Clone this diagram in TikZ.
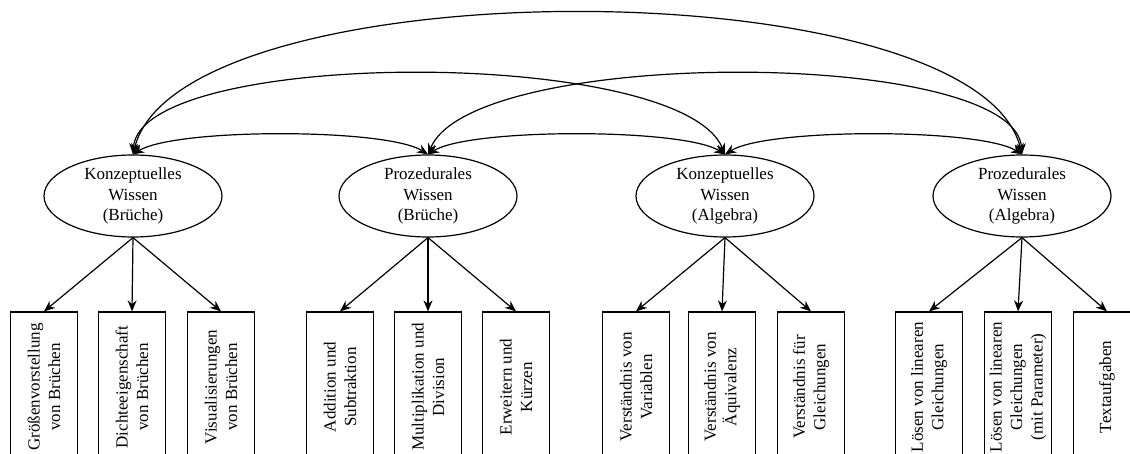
\documentclass[tikz,border=0pt]{standalone}
\usepackage{fontspec}
\setmainfont{Liberation Serif}
\usetikzlibrary{shapes.geometric,arrows.meta}
\begin{document}
\begin{tikzpicture}[x=1pt,y=-1pt,
  latent/.style={draw, ellipse, line width=1.2pt, minimum width=178pt, minimum height=82pt, inner sep=0pt, align=center, font=\fontsize{17}{20.5}\selectfont},
  indic/.style={draw, rectangle, line width=1.2pt, rotate=90, minimum width=150pt, minimum height=67pt, inner sep=2pt, align=center, font=\fontsize{17}{20.5}\selectfont},
  conn/.style={line width=1.2pt, -{Stealth[length=11pt,width=9pt]}},
  cov/.style={line width=1.2pt, {Stealth[length=11pt,width=9pt]}-{Stealth[length=11pt,width=9pt]}}
]
\useasboundingbox (0,0) rectangle (1130,454);
\clip (0,0) rectangle (1130,454);

\node[latent] (e1) at (133,196) {Konzeptuelles\\Wissen\\(Brüche)};
\node[latent] (e2) at (428,196) {Prozedurales\\Wissen\\(Brüche)};
\node[latent] (e3) at (725,196) {Konzeptuelles\\Wissen\\(Algebra)};
\node[latent] (e4) at (1022,196) {Prozedurales\\Wissen\\(Algebra)};

\node[indic] (b1) at (44,387) {Größenvorstellung\\von Brüchen};
\node[indic] (b2) at (132,387) {Dichteeigenschaft\\von Brüchen};
\node[indic] (b3) at (221,387) {Visualisierungen\\von Brüchen};
\node[indic] (b4) at (340,387) {Addition und\\Subtraktion};
\node[indic] (b5) at (428,387) {Multiplikation und\\Division};
\node[indic] (b6) at (516,387) {Erweitern und\\Kürzen};
\node[indic] (b7) at (636,387) {Verständnis von\\Variablen};
\node[indic] (b8) at (722,387) {Verständnis von\\Äquivalenz};
\node[indic] (b9) at (811,387) {Verständnis für\\Gleichungen};
\node[indic] (b10) at (929,387) {Lösen von linearen\\Gleichungen};
\node[indic] (b11) at (1018,387) {Lösen von linearen\\Gleichungen\\(mit Parameter)};
\node[indic] (b12) at (1107,387) {Textaufgaben};

\foreach \e/\a/\b/\c in {e1/b1/b2/b3, e2/b4/b5/b6, e3/b7/b8/b9, e4/b10/b11/b12}{
  \draw[conn] (\e.south) -- (\a.east);
  \draw[conn] (\e.south) -- (\b.east);
  \draw[conn] (\e.south) -- (\c.east);
}

\draw[cov] (e1.north) .. controls (175,128) and (386,128) .. (e2.north);
\draw[cov] (e2.north) .. controls (470,128) and (683,128) .. (e3.north);
\draw[cov] (e3.north) .. controls (767,128) and (980,128) .. (e4.north);
\draw[cov] (e1.north) .. controls (140,48) and (680,46) .. (e3.north);
\draw[cov] (e2.north) .. controls (473,46) and (1015,48) .. (e4.north);
\draw[cov] (e1.north) .. controls (180,-34) and (975,-34) .. (e4.north);
\end{tikzpicture}
\end{document}
